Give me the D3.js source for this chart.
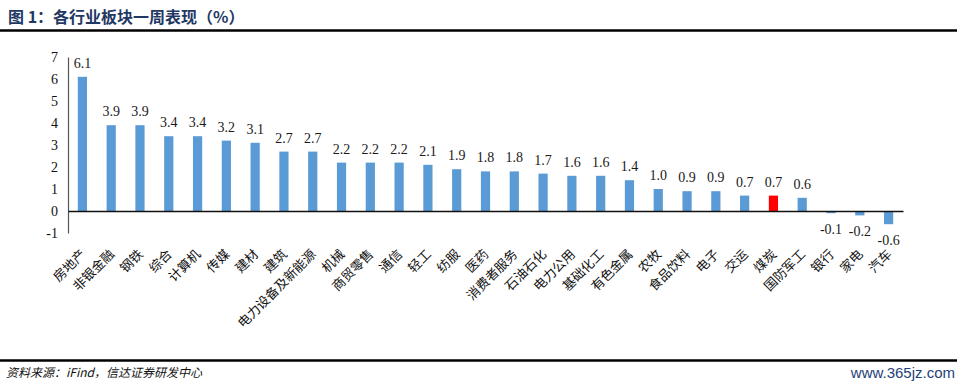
<!DOCTYPE html>
<html>
<head>
<meta charset="utf-8">
<script src="https://cdn.jsdelivr.net/npm/d3@7"></script>
<style>
  html, body { margin: 0; padding: 0; background: #fff; }
  svg { display: block; }
</style>
</head>
<body>
<div id="chart"></div>
<script>
// 各行业板块一周表现（%）
const categories = ['房地产', '非银金融', '钢铁', '综合', '计算机', '传媒', '建材', '建筑', '电力设备及新能源',
  '机械', '商贸零售', '通信', '轻工', '纺服', '医药', '消费者服务', '石油石化', '电力公用', '基础化工',
  '有色金属', '农牧', '食品饮料', '电子', '交运', '煤炭', '国防军工', '银行', '家电', '汽车'];
const values = [6.1, 3.9, 3.9, 3.4, 3.4, 3.2, 3.1, 2.7, 2.7, 2.2, 2.2, 2.2, 2.1, 1.9, 1.8, 1.8, 1.7, 1.6, 1.6,
  1.4, 1.0, 0.9, 0.9, 0.7, 0.7, 0.6, -0.1, -0.2, -0.6];
const highlight = ['煤炭'];
const yTicks = [-1, 0, 1, 2, 3, 4, 5, 6, 7];

const W = 957, H = 388;
const plot = { left: 68, right: 903, top: 57, bottom: 233 };

// 用普通连字符作负号
const fmtInt = d => String(d);
const fmtVal = d => d.toFixed(1);

const svg = d3.select('#chart').append('svg')
  .attr('width', W).attr('height', H);

// 标题与分隔线
svg.append('text')
  .attr('x', 8).attr('y', 23)
  .attr('font-family', '"Noto Sans CJK SC", sans-serif')
  .attr('font-weight', 'bold')
  .attr('font-size', 16)
  .attr('fill', '#1f3864')
  .text('图 1：各行业板块一周表现（%）');
svg.append('line')
  .attr('x1', 0).attr('x2', W).attr('y1', 30.5).attr('y2', 30.5)
  .attr('stroke', '#000').attr('stroke-width', 2.5);

const x = d3.scaleBand()
  .domain(categories)
  .range([plot.left, plot.right])
  .paddingInner(0.68)
  .paddingOuter(0.34);

const y = d3.scaleLinear()
  .domain([-1, 7])
  .range([plot.bottom, plot.top]);

// y 轴
const yAxis = svg.append('g')
  .attr('transform', `translate(${plot.left},0)`)
  .call(d3.axisLeft(y).tickValues(yTicks).tickSize(0).tickPadding(10).tickFormat(fmtInt));
yAxis.select('.domain').attr('stroke', '#555').attr('stroke-width', 1.2);
yAxis.selectAll('text')
  .attr('font-family', '"Liberation Serif", "Times New Roman", serif')
  .attr('font-size', 14)
  .attr('fill', '#111');

// 柱子
svg.append('g').selectAll('rect')
  .data(categories)
  .join('rect')
  .attr('x', d => x(d))
  .attr('width', x.bandwidth())
  .attr('y', (d, i) => y(Math.max(0, values[i])))
  .attr('height', (d, i) => Math.abs(y(values[i]) - y(0)))
  .attr('fill', d => highlight.includes(d) ? '#ff0000' : '#5b9bd5');

// 零轴
const xAxis = svg.append('g')
  .attr('transform', `translate(0,${y(0)})`)
  .call(d3.axisBottom(x).tickSize(0).tickFormat(''));
xAxis.select('.domain').attr('stroke', '#111').attr('stroke-width', 1.5);

// 数值标签
svg.append('g').selectAll('text')
  .data(categories)
  .join('text')
  .attr('x', d => x(d) + x.bandwidth() / 2)
  .attr('y', (d, i) => values[i] >= 0 ? y(values[i]) - 9 : y(values[i]) + 21)
  .attr('text-anchor', 'middle')
  .attr('font-family', '"Liberation Serif", "Times New Roman", serif')
  .attr('font-size', 14)
  .attr('fill', '#1a1a1a')
  .text((d, i) => fmtVal(values[i]));

// 类目标签（旋转 45°）
svg.append('g').selectAll('text')
  .data(categories)
  .join('text')
  .attr('transform', d => `translate(${x(d) + x.bandwidth() / 2 + 4},${plot.bottom + 22}) rotate(-45)`)
  .attr('text-anchor', 'end')
  .attr('font-family', '"Noto Sans CJK SC", sans-serif')
  .attr('font-size', 13)
  .attr('fill', '#111')
  .text(d => d);

// 底部分隔线与来源
svg.append('line')
  .attr('x1', 0).attr('x2', W).attr('y1', 360.5).attr('y2', 360.5)
  .attr('stroke', '#000').attr('stroke-width', 2.5);
svg.append('text')
  .attr('x', 6).attr('y', 377)
  .attr('font-family', '"Noto Sans CJK SC", sans-serif')
  .attr('font-style', 'italic')
  .attr('font-size', 12)
  .attr('fill', '#111')
  .text('资料来源：iFind，信达证券研发中心');
svg.append('text')
  .attr('x', W - 2).attr('y', 378)
  .attr('text-anchor', 'end')
  .attr('font-family', '"Liberation Sans Narrow", "Liberation Sans", sans-serif')
  .attr('font-size', 15)
  .attr('fill', '#1f3f7a')
  .text('www.365jz.com');
</script>
</body>
</html>
